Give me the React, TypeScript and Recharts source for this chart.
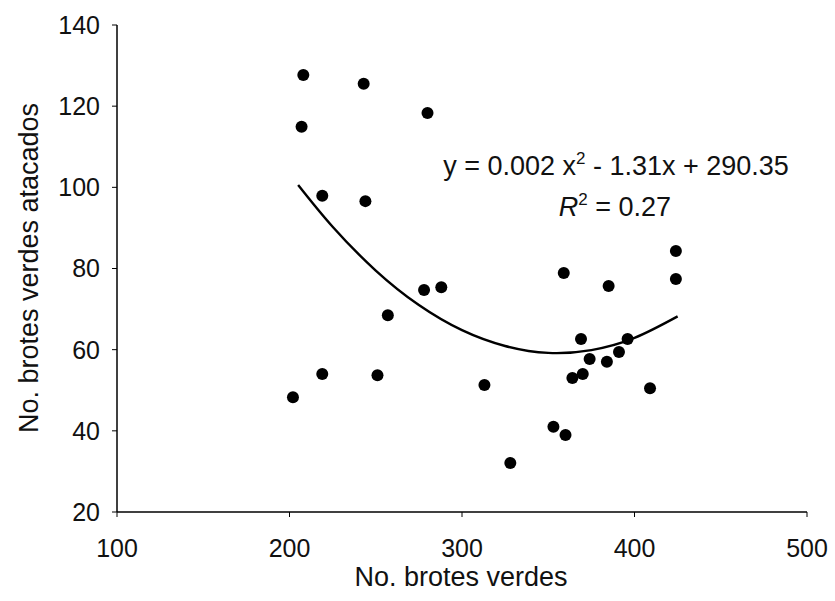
import React from "react";
import { ScatterChart, Scatter, XAxis, YAxis, Customized } from "recharts";

const brotesVerdes = [
  208, 243, 207, 219, 244, 280, 278, 288, 359, 385, 424, 424, 257, 219,
  251, 202, 369, 396, 391, 374, 384, 364, 370, 409, 313, 353, 360, 328,
];
const brotesAtacados = [
  127.7, 125.5, 114.9, 97.9, 96.6, 118.3, 74.7, 75.4, 78.9, 75.7, 84.3, 77.4, 68.5, 54,
  53.7, 48.3, 62.6, 62.6, 59.4, 57.7, 57, 53, 54, 50.5, 51.3, 41, 39, 32.1,
];

// polynomial trend line
const trendX = [205, 225, 250, 275, 300, 325, 350, 375, 400, 425];
const trendY = [100.6, 90.3, 79.5, 71.0, 64.8, 60.9, 59.2, 59.9, 62.9, 68.2];

const xTicks = [100, 200, 300, 400, 500];
const yTicks = [20, 40, 60, 80, 100, 120, 140];

const points = brotesVerdes.map((x, i) => ({ x, y: brotesAtacados[i] }));
const trend = trendX.map((x, i) => ({ x, y: trendY[i] }));

const FONT = "'Liberation Sans', Arial, sans-serif";

const Dot = (props: any) => <circle cx={props.cx} cy={props.cy} r={6} fill="#000" />;
const NoDot = () => <g />;

const Annotation = () => (
  <g fontFamily={FONT} fill="#111">
    <text x={616} y={175} textAnchor="middle" fontSize={27}>
      y = 0.002 x<tspan dy={-11} fontSize={17}>2</tspan>
      <tspan dy={11}> - 1.31x + 290.35</tspan>
    </text>
    <text x={615} y={216} textAnchor="middle" fontSize={27}>
      <tspan fontStyle="italic">R</tspan>
      <tspan dy={-11} fontSize={17}>2</tspan>
      <tspan dy={11}> = 0.27</tspan>
    </text>
    <text
      x={38}
      y={268}
      textAnchor="middle"
      fontSize={27}
      transform="rotate(-90, 38, 268)"
    >
      No. brotes verdes atacados
    </text>
    <text x={461} y={586} textAnchor="middle" fontSize={27}>
      No. brotes verdes
    </text>
  </g>
);

export default function App() {
  return (
    <div style={{ position: "absolute", left: 0, top: 0, background: "#fff" }}>
      <ScatterChart
        width={835}
        height={601}
        margin={{ top: 25, right: 28, bottom: 0, left: 0 }}
      >
        <XAxis
          type="number"
          dataKey="x"
          domain={[100, 500]}
          ticks={xTicks}
          tickSize={5}
          tickMargin={22}
          axisLine={{ stroke: "#000", strokeWidth: 1.5 }}
          tickLine={{ stroke: "#000" }}
          tick={{ fill: "#111", fontSize: 25, fontFamily: FONT }}
          height={89}
        />
        <YAxis
          type="number"
          dataKey="y"
          domain={[20, 140]}
          ticks={yTicks}
          width={117}
          tickSize={5}
          tickMargin={12}
          axisLine={{ stroke: "#000", strokeWidth: 1.5 }}
          tickLine={{ stroke: "#000" }}
          tick={{ fill: "#111", fontSize: 25, fontFamily: FONT }}
        />
        <Scatter
          data={trend}
          line={{ stroke: "#000", strokeWidth: 2.4 }}
          lineJointType="natural"
          shape={NoDot}
          isAnimationActive={false}
        />
        <Scatter data={points} shape={Dot} isAnimationActive={false} />
        <Customized component={Annotation} />
      </ScatterChart>
    </div>
  );
}
